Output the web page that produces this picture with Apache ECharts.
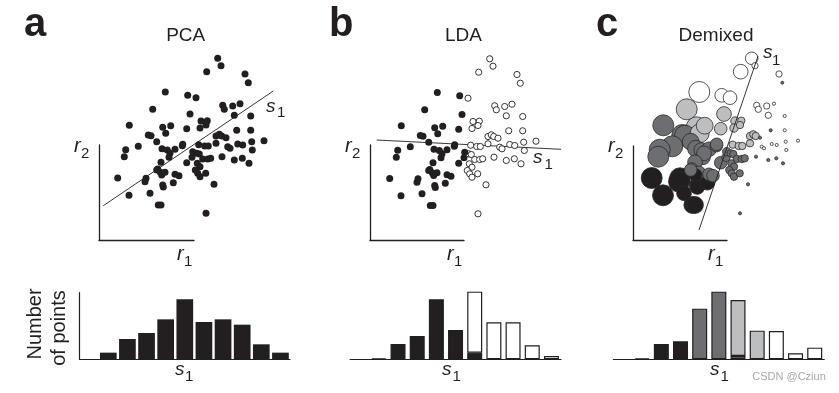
<!DOCTYPE html>
<html><head><meta charset="utf-8">
<script src="https://cdn.jsdelivr.net/npm/echarts@6/dist/echarts.min.js"></script>
<style>html,body{margin:0;padding:0;background:#fff}#c{width:839px;height:393px}</style>
</head><body><div id="c"></div>
<script>
// ---- data: neural responses (r1, r2) of each trial ----
const r1 = [118.7,122,107.7,146,149.3,66.3,88.7,97,53.7,123.7,125.3,133.7,141,135.3,91,102,108.3,107,151.7,30.3,63.7,71.7,66.7,87.7,101,49.3,52,57.7,117,120.3,122.7,127,137.7,151.7,39.3,26.7,25.3,63,68.3,76,83.3,99.7,105.7,109.3,117,128.7,131,138.7,143.7,152.7,165,153.3,70,71,93,97.7,100.3,103.7,108.7,111.7,98.3,101,123,135.3,143.3,150,87.7,62,58.7,61.3,66,96.3,98.7,101,106.7,76,80,18.7,47,46,63.7,64.3,74.3,115,30,51,59.3,62,107,62.7,93.7,83.7,57.7];
const r2 = [181.7,174.3,168.3,166,157.3,148,144.7,142.3,130.7,134.7,130.7,134,136.3,124.7,126,119,119.3,115,124,114.7,112.7,114.3,106.7,111.3,112,105,104.3,98.3,104,105.7,104,102.3,109.7,109.7,93.7,90.3,83.3,91.3,90,90.7,94.3,95.3,94,94,96.7,93.3,91.7,96,95,98.3,99.3,90,82.7,86.7,82.7,86.7,86,81,81,81.7,76.7,73.3,83.3,80,81.7,76.7,77.3,77.7,71,67.7,67.7,70,66.7,63.3,66.7,65.7,64.3,62,61.7,58.3,55,53,57.3,55.7,44.7,46.7,35,35,26.7,65,88.3,95.7,70];
// LDA class of each trial (0 = class A, 1 = class B)
const ldaClass = [1,1,1,1,1,0,0,1,0,1, 1,1,1,1,0,1,1,1,1,0, 0,0,0,0,1,0,0,0,1,1, 1,1,1,1,0,0,0,0,0,0, 0,1,1,1,1,1,1,1,1,1, 1,1,0,0,0,1,1,1,1,1, 1,1,1,1,1,1,0,0,0,0, 0,1,1,1,1,0,0,0,0,0, 0,0,0,1,0,0,0,0,1,0, 0,0,0];
// stimulus level of each trial (0..3)
const stimulus = [3,3,3,3,1,3,3,3,2,3, 3,3,3,3,2,2,2,2,3,1, 2,2,2,2,2,1,1,1,2,2, 2,1,1,3,1,1,1,1,1,1, 1,2,2,2,2,3,3,3,3,3, 3,3,1,1,1,1,1,1,1,1, 1,1,1,1,1,1,1,1,1,1, 1,1,1,1,1,1,1,0,0,0, 0,0,0,1,0,0,0,0,1,0, 1,1,1];
// second task parameter of each trial (drawn as circle size in Demixed)
const decision = [6,3,7,3,1.4,10,6.5,6.5,10,3, 3,3,1.5,3,7,4,3.5,3.5,1.5,10, 10,8,9,6,4,10,10,8,3.5,3.5, 3.5,1.5,1.5,1.5,10,10,10,8,7,7, 6,3.5,3.5,3.5,3.5,1.5,1.5,1.5,1.5,1.5, 1.5,1.5,7,7,4,3.5,3.5,3.5,3.5,3.5, 3.5,3.5,1.5,1.5,1.5,1.5,6,7,6,6, 6,3.5,3.5,3.5,3.5,6,6,10,10,10, 7,7,7,1.5,10,7,8,8,1.5,6, 4,6,6];
// projection axes s1 (two points on each axis line)
const pcaAxis = [[4.3,34.3],[174.3,149]];
const ldaAxis = [[5.7,100.5],[190,91.2]];
const dpcaAxis = [[66,10],[125,184]];
// histograms of s1 projections
const bins = ['0','1','2','3','4','5','6','7','8','9','10'];
const pcaCounts = [0,2,6.1,7.9,12,18,11.2,12,10.4,4.5,2];
const ldaCountsA = [0,0.3,4.6,7,18,8.8,2,0,0,0,0];
const ldaCountsB = [0,0,0,0,0,0,18.3,11.1,11.1,4.2,1];
const dpcaCounts0 = [0,0.3,4.6,5.4,0,0,0,0,0,0,0];
const dpcaCounts1 = [0,0,0,0,15.2,20.3,1,0,0,0,0];
const dpcaCounts2 = [0,0,0,0,0,0,16.8,8.6,0,0,0];
const dpcaCounts3 = [0,0,0,0,0,0,0,0,8.5,1.8,3.5];

// ---- styles ----
const INK = '#231f20';
const STIM_COLORS = ['#231f20','#6d6e71','#bcbec0','#ffffff'];
const FONT = '"Liberation Sans", Arial, Helvetica, sans-serif';

const chart = echarts.init(document.getElementById('c'), null, {renderer:'canvas'});

const pts = r1.map((x,i)=>[x, r2[i]]);
const hidden = {show:false};
function dataAxis(g, max){ return {gridIndex:g, type:'value', min:0, max:max, show:false}; }
function lAxis(g){ return {gridIndex:g, type:'value', min:0, max:1, axisLine:{show:true, onZero:false, lineStyle:{color:INK, width:1.3}}, axisTick:hidden, axisLabel:hidden, splitLine:hidden}; }
function histX(g){ return {gridIndex:g, type:'category', data:bins, boundaryGap:true, axisLine:{show:true, lineStyle:{color:INK, width:1.2}}, axisTick:hidden, axisLabel:hidden, splitLine:hidden}; }
function histY(g, max, show){ return {gridIndex:g, type:'value', min:0, max:max, show:show, axisLine:{show:true, lineStyle:{color:INK, width:1.2}}, axisTick:hidden, axisLabel:hidden, splitLine:hidden}; }
const nz = a => a.map(v => v === 0 ? null : v);

function txt(str, x, y, size, o){
  o = o || {};
  const font = (o.italic?'italic ':'') + (o.bold?'bold ':'') + size + 'px ' + FONT;
  const al = o.align || 'left';
  return {type:'text', x:x, y:y, rotation:o.rot||0, silent:true, z:100,
    style:{text:str, font:font, fill:o.fill||INK, textAlign:al, align:al, textVerticalAlign:'middle', verticalAlign:'middle'}};
}

const orderC = pts.map((_,i)=>i).sort((a,b)=>decision[b]-decision[a]);

const option = {
  animation:false,
  backgroundColor:'#fff',
  grid:[
    {left:99, top:40, width:200, height:200},
    {left:99, top:145, width:95, height:95},
    {left:371, top:40.5, width:200, height:200},
    {left:370, top:145, width:94, height:95},
    {left:633, top:40, width:200, height:200},
    {left:633, top:146, width:94, height:94},
    {left:79.6, top:292.7, width:210.4, height:66.6},
    {left:350.1, top:289.3, width:210.9, height:70},
    {left:613.4, top:289.3, width:210.9, height:70}
  ],
  xAxis:[dataAxis(0,200), lAxis(1), dataAxis(2,200), lAxis(3), dataAxis(4,200), lAxis(5), histX(6), histX(7), histX(8)],
  yAxis:[dataAxis(0,200), lAxis(1), dataAxis(2,200), lAxis(3), dataAxis(4,200), lAxis(5), histY(6,20,true), histY(7,21,false), histY(8,21,false)],
  series:[
    // a: PCA
    {type:'line', xAxisIndex:0, yAxisIndex:0, data:pcaAxis, showSymbol:false, silent:true, z:1, lineStyle:{color:INK, width:0.9}},
    {type:'scatter', xAxisIndex:0, yAxisIndex:0, data:pts, symbolSize:7, z:2, itemStyle:{color:INK, opacity:1}},
    // b: LDA
    {type:'line', xAxisIndex:2, yAxisIndex:2, data:ldaAxis, showSymbol:false, silent:true, z:1, lineStyle:{color:INK, width:0.9}},
    {type:'scatter', xAxisIndex:2, yAxisIndex:2, z:2,
     data:pts.map((p,i)=> ldaClass[i] === 0
       ? {value:p, symbolSize:7, itemStyle:{color:INK, borderWidth:0}}
       : {value:p, symbolSize:6.2, itemStyle:{color:'#fff', borderColor:INK, borderWidth:0.9}}),
     itemStyle:{opacity:1}},
    // c: Demixed
    {type:'scatter', xAxisIndex:4, yAxisIndex:4, z:2,
     data:orderC.map(i=>({value:pts[i], symbolSize:2.1*decision[i],
       itemStyle:{color:STIM_COLORS[stimulus[i]], borderColor:'#2a2a2a', borderWidth:0.8}})),
     itemStyle:{opacity:1}},
    {type:'line', xAxisIndex:4, yAxisIndex:4, data:dpcaAxis, showSymbol:false, silent:true, z:3, lineStyle:{color:INK, width:0.9}},
    // histograms
    {type:'bar', xAxisIndex:6, yAxisIndex:6, data:nz(pcaCounts), barWidth:16.7, itemStyle:{color:INK}},
    {type:'bar', xAxisIndex:7, yAxisIndex:7, stack:'lda', data:nz(ldaCountsA), barWidth:15, itemStyle:{color:INK, borderColor:INK, borderWidth:1.2}},
    {type:'bar', xAxisIndex:7, yAxisIndex:7, stack:'lda', data:nz(ldaCountsB), barWidth:15, itemStyle:{color:'#fff', borderColor:INK, borderWidth:1.2}},
    {type:'bar', xAxisIndex:8, yAxisIndex:8, stack:'dpca', data:nz(dpcaCounts0), barWidth:15, itemStyle:{color:STIM_COLORS[0], borderColor:INK, borderWidth:1.2}},
    {type:'bar', xAxisIndex:8, yAxisIndex:8, stack:'dpca', data:nz(dpcaCounts1), barWidth:15, itemStyle:{color:STIM_COLORS[1], borderColor:INK, borderWidth:1.2}},
    {type:'bar', xAxisIndex:8, yAxisIndex:8, stack:'dpca', data:nz(dpcaCounts2), barWidth:15, itemStyle:{color:STIM_COLORS[2], borderColor:INK, borderWidth:1.2}},
    {type:'bar', xAxisIndex:8, yAxisIndex:8, stack:'dpca', data:nz(dpcaCounts3), barWidth:15, itemStyle:{color:STIM_COLORS[3], borderColor:INK, borderWidth:1.2}}
  ],
  graphic:[
    txt('a', 24, 25, 40, {bold:true}),
    txt('b', 329, 25, 40, {bold:true}),
    txt('c', 596, 25, 40, {bold:true}),
    txt('PCA', 185.7, 36, 19, {align:'center'}),
    txt('LDA', 463.5, 36, 19, {align:'center'}),
    txt('Demixed', 716, 36, 19, {align:'center'}),
    // r2 labels
    txt('r', 74, 146.3, 20, {italic:true}), txt('2', 81, 153.8, 15),
    txt('r', 345, 146.3, 20, {italic:true}), txt('2', 352, 153.8, 15),
    txt('r', 608, 146.3, 20, {italic:true}), txt('2', 615, 153.8, 15),
    // r1 labels
    txt('r', 177, 254.7, 20, {italic:true}), txt('1', 184, 261.8, 15),
    txt('r', 447, 254.7, 20, {italic:true}), txt('1', 454, 261.8, 15),
    txt('r', 708, 254.7, 20, {italic:true}), txt('1', 715, 261.8, 15),
    // s1 axis labels
    txt('s', 266, 106.4, 19, {italic:true}), txt('1', 277, 113.3, 15),
    txt('s', 533, 157.4, 19, {italic:true}), txt('1', 544.5, 165.3, 15),
    txt('s', 763, 52.4, 19, {italic:true}), txt('1', 772, 61.3, 15),
    // histogram s1 labels
    txt('s', 175, 370, 19, {italic:true}), txt('1', 185, 376.8, 15),
    txt('s', 442, 370, 19, {italic:true}), txt('1', 452.5, 376.8, 15),
    txt('s', 710, 370, 19, {italic:true}), txt('1', 720.5, 376.8, 15),
    // y title
    txt('Number', 35.5, 324, 20, {align:'center', rot:Math.PI/2}),
    txt('of points', 59.5, 328, 20, {align:'center', rot:Math.PI/2}),
    txt('CSDN @Cziun', 789, 377, 11, {align:'center', fill:'#a8a8a8'})
  ]
};
chart.setOption(option);
</script>
</body></html>
